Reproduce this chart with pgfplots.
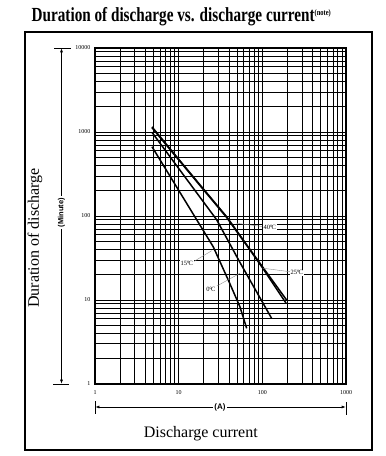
\documentclass[border=0pt]{standalone}
\usepackage{fontspec}
\setmainfont{Liberation Serif}
\newfontfamily\titlefont[FakeStretch=0.76]{Liberation Serif}
\newfontfamily\labsans{Liberation Sans}
\usepackage{pgfplots}
\pgfplotsset{compat=1.18}
\usetikzlibrary{arrows.meta}

\begin{document}
\begin{tikzpicture}
\path[use as bounding box] (0pt,0pt) rectangle (386pt,456pt);

\begin{axis}[
 at={(95pt,72pt)}, anchor=south west,
 scale only axis, width=251pt, height=336pt,
 xmode=log, ymode=log,
 xmin=1, xmax=1000, ymin=1, ymax=10000,
 xtick={1,10,100,1000}, xticklabels={1,10,100,1000},
 ytick={1,10,100,1000,10000}, yticklabels={1,10,100,1000,10000},
 minor xtick={2,3,4,5,6,7,8,9,20,30,40,50,60,70,80,90,200,300,400,500,600,700,800,900},
 minor ytick={2,3,4,5,6,7,8,9,20,30,40,50,60,70,80,90,200,300,400,500,600,700,800,900,2000,3000,4000,5000,6000,7000,8000,9000},
 grid=both,
 major grid style={black, line width=0.95pt},
 minor grid style={black, line width=0.85pt},
 axis line style={line width=1.2pt},
 major tick length=0pt, minor tick length=0pt,
 tick label style={font=\fontsize{6}{7}\selectfont},
 xticklabel style={yshift=-3pt},
 yticklabel style={xshift=-1pt},
]
% 40 C
\addplot[black, line width=1.5pt] coordinates {(4.8,1150) (10,475) (20,207) (37.5,98) (70,41) (100,25) (195,10)};
% 25 C
\addplot[black, line width=1.5pt] coordinates {(4.8,1125) (10,466) (20,203) (37.5,96) (70,40.3) (100,24.3) (193,9.1)};
% middle curve
\addplot[black, line width=1.5pt] coordinates {(4.8,990) (28.5,90) (54,28) (129,6.06)};
% lowest curve
\addplot[black, line width=1.5pt] coordinates {(4.8,668) (25.9,43) (40,16.5) (54,8.3) (65,4.6)};

% leader lines
\draw[black!45, line width=0.4pt] (axis cs:49.3,81.9) -- (axis cs:100,75);
\draw[black!45, line width=0.4pt] (axis cs:101.6,23.9) -- (axis cs:215,21.7);
\draw[black!45, line width=0.4pt] (axis cs:14.8,28.3) -- (axis cs:24.8,38.6);
\draw[black!45, line width=0.4pt] (axis cs:28.7,14.7) -- (axis cs:54,20.8);

\node[fill=white, inner sep=0.8pt, font=\fontsize{6.5}{7}\selectfont] at (axis cs:123,73) {40\kern-0.3pt°\kern-0.8ptC};
\node[fill=white, inner sep=0.8pt, font=\fontsize{6.5}{7}\selectfont] at (axis cs:259,21.2) {25\kern-0.3pt°\kern-0.8ptC};
\node[fill=white, inner sep=0.8pt, font=\fontsize{6.5}{7}\selectfont] at (axis cs:12.5,27.3) {15\kern-0.3pt°\kern-0.8ptC};
\node[fill=white, inner sep=0.8pt, font=\fontsize{6.5}{7}\selectfont] at (axis cs:24.3,13.3) {0\kern-0.3pt°\kern-0.8ptC};
\end{axis}

\begin{scope}[x=1pt,y=1pt]
\draw[line width=1.5pt] (25,6) rectangle (372,424);
\node[anchor=base west, inner sep=0] at (31.5,434.3) {\titlefont\bfseries\fontsize{20}{22}\selectfont Duration of discharge vs. discharge current\raisebox{6.5pt}{\fontsize{8.5}{9}\selectfont(note)}};
% y label and arrow
\node[rotate=90, font=\fontsize{16}{18}\selectfont] at (35,218) {Duration of discharge};
\draw[line width=0.6pt] (54,408) -- (71,408);
\draw[line width=0.6pt] (53,72) -- (69,72);
\draw[line width=0.6pt, {Latex[length=4pt,width=3pt]}-{Latex[length=4pt,width=3pt]}] (61.5,407.7) -- (61.5,72.3);
\node[fill=white, rotate=90, inner sep=1.5pt, font=\labsans\bfseries\fontsize{7.5}{8}\selectfont] at (61.5,243.5) {(Minute)};
% x label and arrow
\draw[line width=0.6pt] (95,42) -- (95,55);
\draw[line width=0.6pt] (346,41) -- (346,54);
\draw[line width=0.6pt, {Latex[length=4pt,width=3pt]}-{Latex[length=4pt,width=3pt]}] (95.3,49) -- (345.7,49);
\node[fill=white, inner sep=1.5pt, font=\labsans\bfseries\fontsize{8}{9}\selectfont] at (220,49) {(A)};
\node[anchor=base, font=\fontsize{16}{18}\selectfont] at (200.8,18) {Discharge current};
\end{scope}
\end{tikzpicture}
\end{document}
